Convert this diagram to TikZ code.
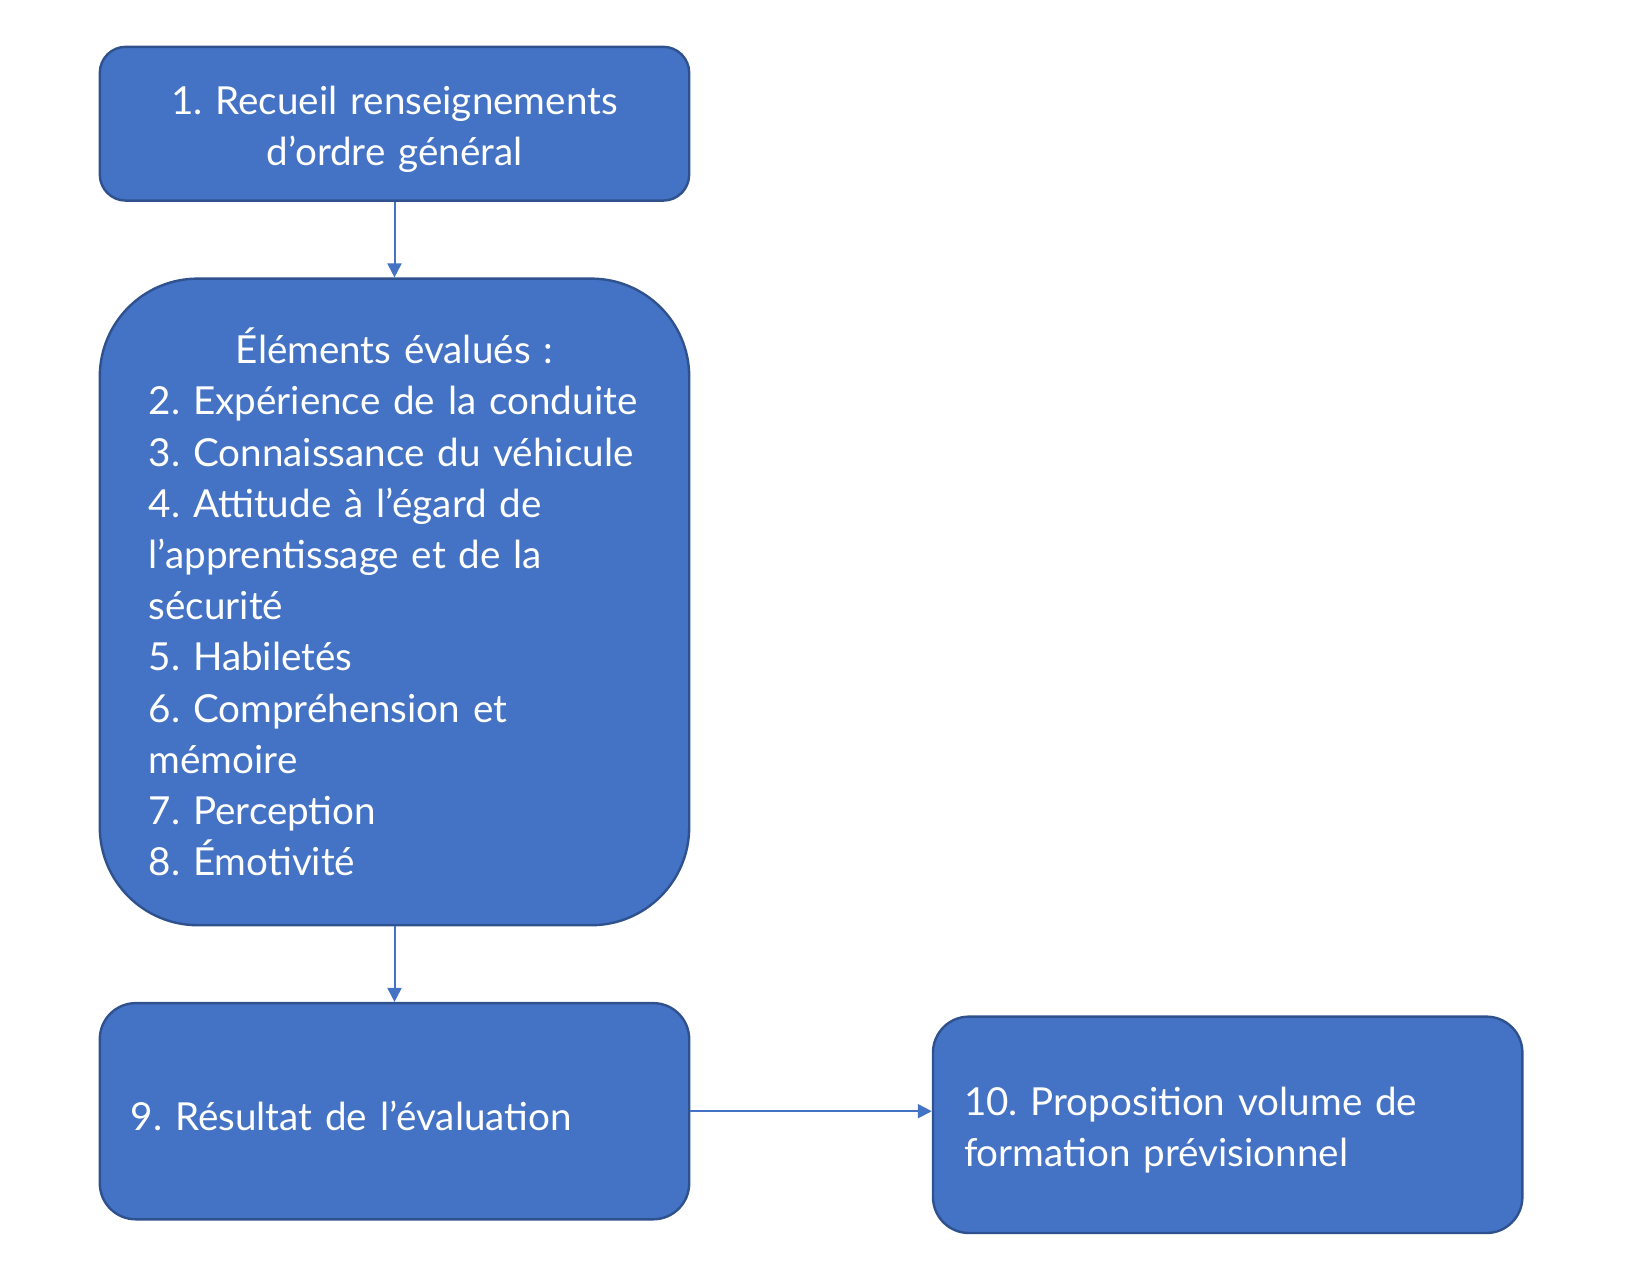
\documentclass[tikz,border=0pt]{standalone}
\usepackage{fontspec}
\setmainfont{Lato}
\frenchspacing
\usetikzlibrary{arrows.meta}
\definecolor{bleu}{HTML}{4472C4}
\definecolor{bleufonce}{HTML}{2F528F}
\begin{document}
\begin{tikzpicture}[x=0.5pt,y=-0.5pt,
    etape/.style={fill=bleu,draw=bleufonce,line width=1.2pt,text=white,
        font=\fontsize{19.3}{25.6}\selectfont,inner ysep=0pt},
    decale/.style={execute at begin node={\rule{0pt}{1.02em}}},
    fleche/.style={draw=bleu,line width=1pt,-{Triangle[length=7pt,width=7pt]}}]
    \useasboundingbox (0,0) rectangle (1630,1266);
    \node[etape,decale,rounded corners=13pt,minimum height=76.9pt,text width=245.7pt,
        inner xsep=24.5pt,align=center] (recueil) at (394.5,123.7)
        {1. Recueil renseignements\\d’ordre général};
    \node[etape,rounded corners=49pt,minimum height=323.3pt,text width=245.7pt,
        inner xsep=24.5pt,align=left] (elements) at (394.5,601.9)
        {\makebox[\linewidth][c]{Éléments évalués :}\\
        2. Expérience de la conduite\\
        3. Connaissance du véhicule\\
        4. Attitude à l’égard de\\
        l’apprentissage et de la\\
        sécurité\\
        5. Habiletés\\
        6. Compréhension et\\
        mémoire\\
        7. Perception\\
        8. Émotivité};
    \node[etape,decale,rounded corners=18pt,minimum height=108.1pt,text width=263.7pt,
        inner xsep=15.5pt,align=left] (resultat) at (394.5,1111.2)
        {9. Résultat de l’évaluation};
    \node[etape,decale,rounded corners=18pt,minimum height=108.2pt,text width=263.7pt,
        inner xsep=15.5pt,align=left] (volume) at (1227.7,1124.8)
        {10. Proposition volume de\\formation prévisionnel};
    \draw[fleche] (recueil) -- (elements);
    \draw[fleche] (elements) -- (resultat);
    \draw[fleche] (resultat.east) -- (resultat.east -| volume.west);
\end{tikzpicture}
\end{document}
